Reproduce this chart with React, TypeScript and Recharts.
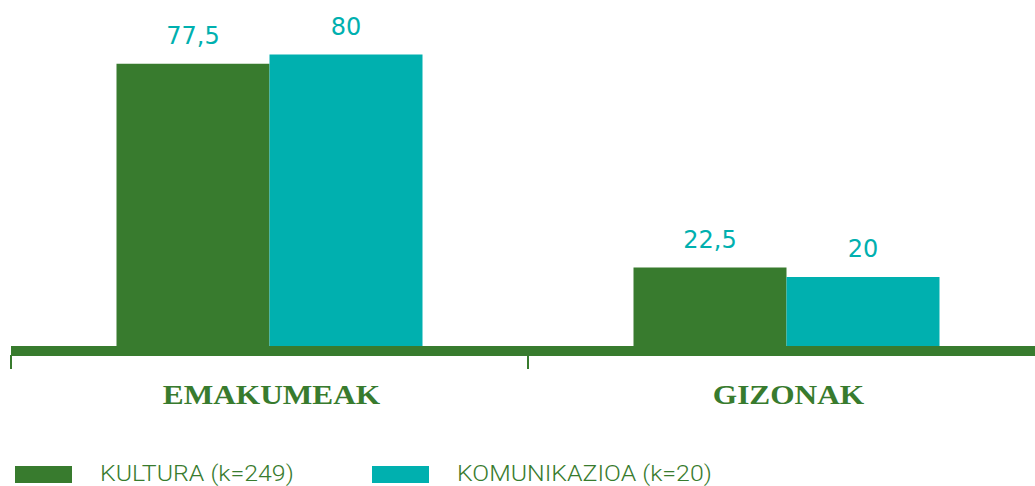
import React from "react";
import { BarChart, Bar, XAxis, YAxis, Legend, LabelList } from "recharts";

const categories = ["EMAKUMEAK", "GIZONAK"];
const kultura = [77.5, 22.5];
const komunikazioa = [80, 20];
const seriesNames = ["KULTURA (k=249)", "KOMUNIKAZIOA (k=20)"];

const GREEN = "#387B2E";
const TEAL = "#00B0AF";

const data = categories.map((name, i) => ({
  name,
  kultura: kultura[i],
  komunikazioa: komunikazioa[i],
}));

// value above the bar, decimal comma
const ValueLabel = (props: any) => {
  const { x, y, width, value } = props;
  return (
    <text
      x={x + width / 2}
      y={y - 20}
      textAnchor="middle"
      fill={TEAL}
      fontSize={24}
      fontFamily="DejaVu Sans"
    >
      {String(value).replace(".", ",")}
    </text>
  );
};

// category name plus a tick on the left edge of the band
const CategoryTick = (props: any) => {
  const { x, y, payload } = props;
  const half = payload?.offset ?? 258.5;
  const ty = y + 53;
  return (
    <g>
      <rect x={x - half - 1} y={y + 4} width={2} height={14} fill={GREEN} />
      <g transform={`translate(${x + 2} ${ty}) scale(1.16 1)`}>
        <text
          x={0}
          y={0}
          textAnchor="middle"
          fill={GREEN}
          fontSize={27}
          fontWeight="bold"
          fontFamily="Liberation Serif"
        >
          {payload.value}
        </text>
      </g>
    </g>
  );
};

const LegendContent = () => {
  const colors = [GREEN, TEAL];
  const lefts = [7, 364];
  return (
    <div style={{ position: "relative", height: 26 }}>
      {seriesNames.map((name, i) => (
        <React.Fragment key={name}>
          <div
            style={{
              position: "absolute",
              left: lefts[i],
              top: 0,
              width: 57,
              height: 17,
              background: colors[i],
            }}
          />
          <div
            style={{
              position: "absolute",
              left: lefts[i] + 85,
              top: -5,
              lineHeight: "26px",
              fontSize: 22,
              fontFamily: "Roboto",
              fontWeight: 300,
              color: GREEN,
              whiteSpace: "nowrap",
              transform: "scaleX(1.13)",
              transformOrigin: "left center",
            }}
          >
            {name}
          </div>
        </React.Fragment>
      ))}
    </div>
  );
};

export default function App() {
  return (
    <div style={{ width: 1027, height: 478, overflow: "visible" }}>
      <style>
        {"html{overflow:hidden}body,#root{overflow:visible!important}"}
      </style>
      <BarChart
        width={1027}
        height={478}
        data={data}
        margin={{ top: 28, right: 0, left: 3, bottom: 75 }}
        barCategoryGap={105.5}
        barGap={0}
        style={{ overflow: "visible" }}
      >
        {/* the category bands run on past the right edge of the picture */}
        <XAxis
          dataKey="name"
          height={60}
          padding={{ left: 0, right: -10 }}
          tickSize={0}
          tickMargin={0}
          tickLine={false}
          axisLine={{ stroke: GREEN, strokeWidth: 10 }}
          tick={CategoryTick}
          interval={0}
        />
        <YAxis hide domain={[0, 85]} />
        <Legend
          layout="vertical"
          verticalAlign="middle"
          align="center"
          content={LegendContent}
          wrapperStyle={{ left: 0, top: 458, width: 1027 }}
        />
        <Bar dataKey="kultura" fill={GREEN} isAnimationActive={false}>
          <LabelList dataKey="kultura" content={ValueLabel} />
        </Bar>
        <Bar dataKey="komunikazioa" fill={TEAL} isAnimationActive={false}>
          <LabelList dataKey="komunikazioa" content={ValueLabel} />
        </Bar>
      </BarChart>
    </div>
  );
}
